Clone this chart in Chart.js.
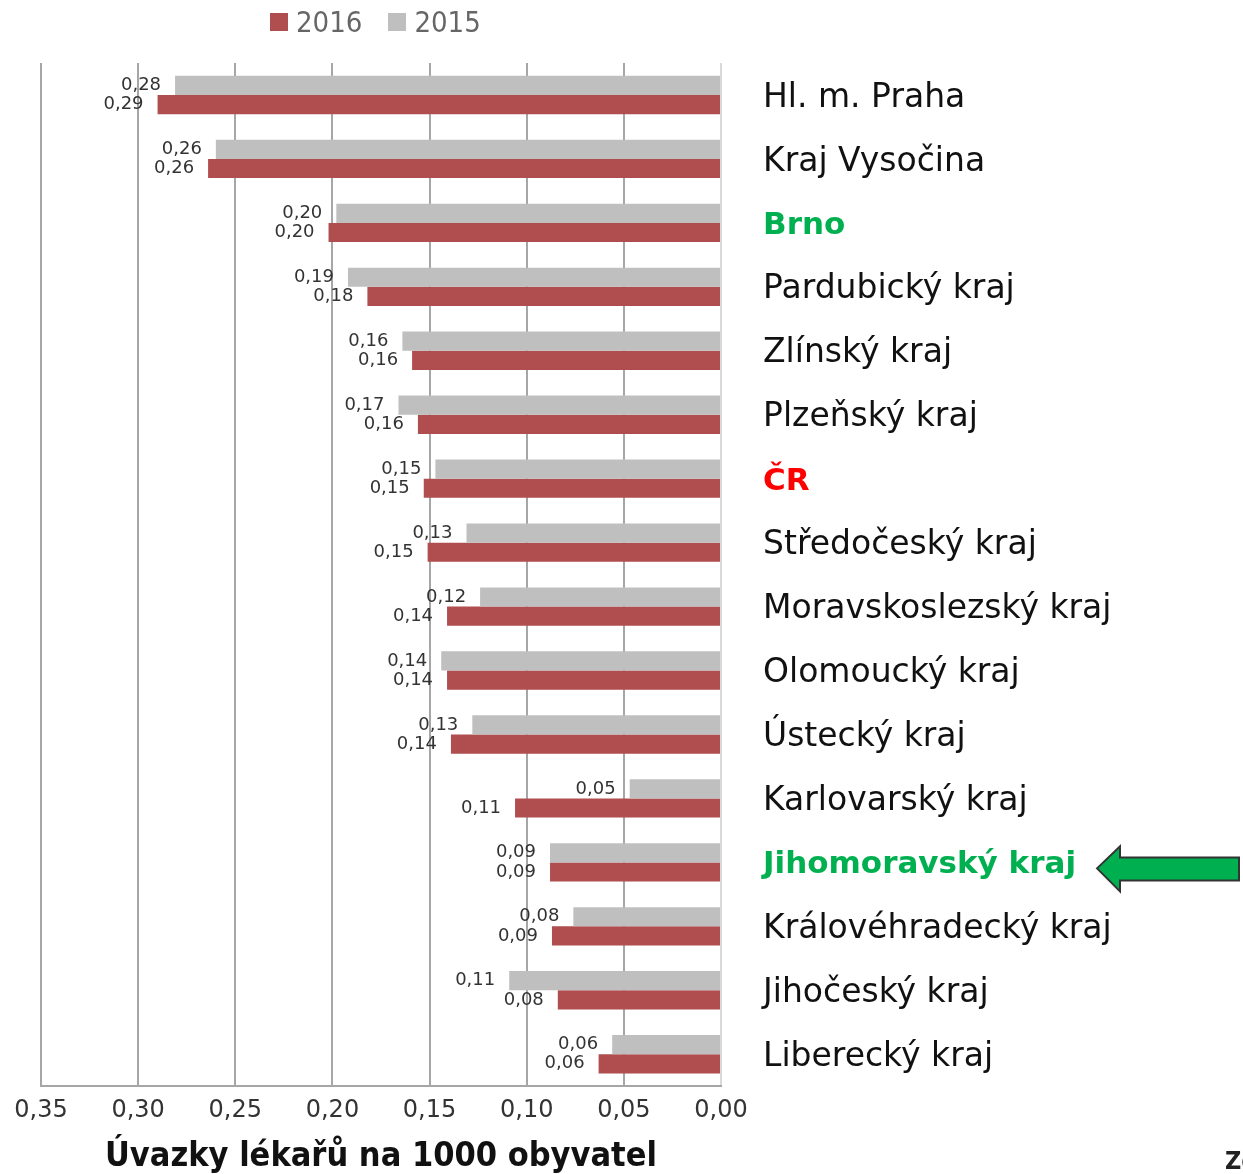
<!DOCTYPE html>
<html>
<head>
<meta charset="utf-8">
<script src="https://cdn.jsdelivr.net/npm/chart.js@4/dist/chart.umd.min.js"></script>
<style>
  html, body { margin: 0; padding: 0; background: #fff; overflow: hidden; }
  #wrap { position: relative; width: 1243px; height: 1174px; }
  #legend { position: absolute; top: 5px; left: 270px; font-family: "DejaVu Sans Condensed", "DejaVu Sans", sans-serif; font-size: 29px; color: #666; display: flex; gap: 26px; }
  #legend span.box { display: inline-block; width: 18px; height: 18px; margin-right: 8px; vertical-align: 1px; }
  #source { position: absolute; left: 1225px; top: 1146px; font-family: "DejaVu Sans Condensed", "DejaVu Sans", sans-serif; font-size: 25px; font-weight: bold; color: #222; white-space: nowrap; }
</style>
</head>
<body>
<div id="wrap">
  <canvas id="reportChart" width="1243" height="1174"></canvas>
  <div id="legend"></div>
  <div id="source">Zdroj: ÚZIS</div>
</div>
<script>
// data
const regions = ['Hl. m. Praha', 'Kraj Vysočina', 'Brno', 'Pardubický kraj', 'Zlínský kraj', 'Plzeňský kraj', 'ČR',
  'Středočeský kraj', 'Moravskoslezský kraj', 'Olomoucký kraj', 'Ústecký kraj', 'Karlovarský kraj',
  'Jihomoravský kraj', 'Královéhradecký kraj', 'Jihočeský kraj', 'Liberecký kraj'];
const values2015 = [0.281, 0.260, 0.198, 0.192, 0.164, 0.166, 0.147, 0.131, 0.124, 0.144, 0.128, 0.047, 0.088, 0.076, 0.109, 0.056];
const values2016 = [0.290, 0.264, 0.202, 0.182, 0.159, 0.156, 0.153, 0.151, 0.141, 0.141, 0.139, 0.106, 0.088, 0.087, 0.084, 0.063];
const xTicks = [0, 0.05, 0.10, 0.15, 0.20, 0.25, 0.30, 0.35];

const FONT = '"DejaVu Sans", sans-serif';
const FONT_C = '"DejaVu Sans Condensed", "DejaVu Sans", sans-serif';
const labelColors = { 'Brno': '#00B050', 'ČR': '#FF0000', 'Jihomoravský kraj': '#00B050' };
const boldLabels = ['Brno', 'ČR', 'Jihomoravský kraj'];

function fmt(v) { return v.toFixed(2).replace('.', ','); }

// value labels left of each bar end
const valueLabels = {
  id: 'valueLabels',
  afterDatasetsDraw(chart) {
    const ctx = chart.ctx;
    ctx.save();
    ctx.font = '18px ' + FONT;
    ctx.fillStyle = '#333';
    ctx.textAlign = 'right';
    ctx.textBaseline = 'middle';
    chart.data.datasets.forEach((ds, i) => {
      chart.getDatasetMeta(i).data.forEach((el, j) => {
        ctx.fillText(fmt(ds.data[j]), el.x - 14, el.y);
      });
    });
    ctx.restore();
  }
};

// green arrow pointing at Jihomoravský kraj
const arrow = {
  id: 'arrow',
  afterDraw(chart) {
    const y = chart.scales.y.getPixelForValue(regions.indexOf('Jihomoravský kraj')) + 6;
    const ctx = chart.ctx;
    ctx.save();
    ctx.beginPath();
    ctx.moveTo(1097, y);
    ctx.lineTo(1120, y - 22);
    ctx.lineTo(1120, y - 11);
    ctx.lineTo(1239, y - 11);
    ctx.lineTo(1239, y + 12);
    ctx.lineTo(1120, y + 12);
    ctx.lineTo(1120, y + 23);
    ctx.closePath();
    ctx.fillStyle = '#00B050';
    ctx.fill();
    ctx.lineWidth = 2;
    ctx.strokeStyle = '#333';
    ctx.stroke();
    ctx.restore();
  }
};

const datasets = [
  { label: '2015', data: values2015, backgroundColor: '#BFBFBF', categoryPercentage: 0.6, barPercentage: 1.0 },
  { label: '2016', data: values2016, backgroundColor: '#B04E4F', categoryPercentage: 0.6, barPercentage: 1.0 }
];

// html legend, 2016 first
document.getElementById('legend').innerHTML = datasets.slice().reverse().map(d =>
  `<div><span class="box" style="background:${d.backgroundColor}"></span>${d.label}</div>`).join('');

new Chart(document.getElementById('reportChart').getContext('2d'), {
  type: 'bar',
  data: { labels: regions, datasets },
  options: {
    indexAxis: 'y',
    responsive: false,
    animation: false,
    layout: { padding: { left: 41, top: 63, right: 0, bottom: 0 } },
    plugins: { legend: { display: false }, tooltip: { enabled: false } },
    scales: {
      x: {
        reverse: true,
        min: 0,
        max: 0.35,
        afterBuildTicks: s => { s.ticks = xTicks.map(v => ({ value: v })); },
        grid: {
          color: c => (c.tick && c.tick.value === 0) ? '#d9d9d9' : '#a6a6a6',
          lineWidth: 2,
          drawTicks: false
        },
        border: { color: '#a6a6a6', width: 2 },
        ticks: {
          padding: 10,
          color: '#333',
          font: { family: FONT, size: 24 },
          maxRotation: 0,
          callback: v => fmt(v)
        },
        title: {
          display: true,
          text: 'Úvazky lékařů na 1000 obyvatel',
          color: '#111',
          font: { family: FONT_C, size: 34, weight: 'bold', lineHeight: 1.0 },
          padding: { top: 5, bottom: 0 }
        }
      },
      y: {
        position: 'right',
        grid: { display: false, drawTicks: false },
        border: { display: false },
        afterFit: s => { s.width = 522; },
        ticks: {
          padding: 42,
          labelOffset: 3,
          color: c => labelColors[regions[c.index]] || '#111',
          font: c => boldLabels.includes(regions[c.index])
            ? { family: FONT, size: 31, weight: 'bold' }
            : { family: FONT, size: 33, weight: 'normal' }
        }
      }
    }
  },
  plugins: [valueLabels, arrow]
});
</script>
</body>
</html>
